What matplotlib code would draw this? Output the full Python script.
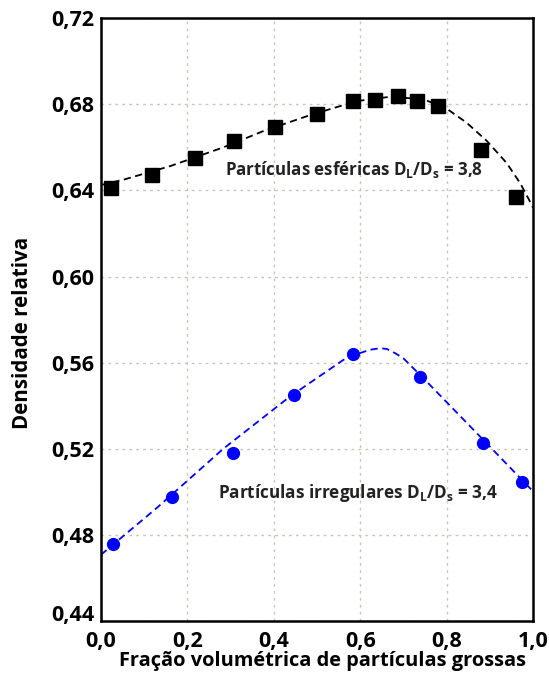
import matplotlib.pyplot as plt
from matplotlib.transforms import ScaledTranslation

plt.rcParams['font.family'] = ['Open Sans', 'DejaVu Sans']
plt.rcParams['mathtext.fontset'] = 'custom'
plt.rcParams['mathtext.bf'] = 'Open Sans:bold'
plt.rcParams['mathtext.rm'] = 'Open Sans:bold'

# esfericas (squares)
esf_x = [0.022, 0.117, 0.218, 0.308, 0.403, 0.499, 0.584, 0.633, 0.688, 0.732, 0.779, 0.880, 0.961]
esf_y = [0.641, 0.647, 0.655, 0.663, 0.6695, 0.6755, 0.6816, 0.682, 0.684, 0.6816, 0.679, 0.6587, 0.637]
esf_fit_x = [0.0, 0.052, 0.160, 0.283, 0.376, 0.484, 0.592, 0.669, 0.746, 0.800, 0.846, 0.893, 0.939, 0.970, 0.989, 1.0]
esf_fit_y = [0.6425, 0.645, 0.6513, 0.660, 0.6676, 0.675, 0.6815, 0.6835, 0.6824, 0.678, 0.6715, 0.663, 0.6527, 0.6434, 0.6363, 0.632]

# irregulares (circles)
irr_x = [0.027, 0.164, 0.306, 0.447, 0.583, 0.738, 0.883, 0.975]
irr_y = [0.4757, 0.4975, 0.5181, 0.5449, 0.564, 0.5533, 0.5229, 0.5044]
irr_fit_x = [0.0, 0.129, 0.283, 0.4375, 0.561, 0.600, 0.623, 0.645, 0.661, 0.680, 0.700, 0.746, 0.900, 1.0]
irr_fit_y = [0.4708, 0.4925, 0.520, 0.5443, 0.5613, 0.5645, 0.566, 0.5667, 0.5664, 0.5645, 0.562, 0.5528, 0.521, 0.5002]

xticks = [0.0, 0.2, 0.4, 0.6, 0.8, 1.0]
yticks = [0.44, 0.48, 0.52, 0.56, 0.60, 0.64, 0.68, 0.72]

fig = plt.figure(figsize=(5.49, 6.75), dpi=100)
ax = fig.add_axes([0.184, 0.08, 0.787, 0.893])

ax.plot(esf_fit_x, esf_fit_y, '--', color='black', lw=1.3, dashes=(4, 2.5))
ax.plot(esf_x, esf_y, 's', color='black', ms=9.5, ls='none')
ax.plot(irr_fit_x, irr_fit_y, '--', color='#0000ff', lw=1.3, dashes=(4, 2.5))
ax.plot(irr_x, irr_y, 'o', color='#0000ff', ms=8.5, ls='none')

ax.text(0.287, 0.6495, r'Partículas esféricas D$_\mathbf{L}$/D$_\mathbf{s}$ = 3,8',
        fontsize=12.2, fontweight='bold', color='#222222', va='center')
ax.text(0.271, 0.4995, r'Partículas irregulares D$_\mathbf{L}$/D$_\mathbf{s}$ = 3,4',
        fontsize=12.3, fontweight='bold', color='#222222', va='center')

ax.set_xlim(0, 1.0)
ax.set_ylim(0.44, 0.72)
ax.set_xticks(xticks)
ax.set_yticks(yticks)
ax.set_xticklabels([f'{v:.1f}'.replace('.', ',') for v in xticks])
ax.set_yticklabels([f'{v:.2f}'.replace('.', ',') for v in yticks])
ax.tick_params(length=0, labelsize=15.5, pad=5)
ax.tick_params(axis='x', pad=7)
for lab in ax.get_xticklabels() + ax.get_yticklabels():
    lab.set_fontweight('bold')
# lowest y label sits a little above the axis line, as in the original
first = ax.get_yticklabels()[0]
first.set_transform(first.get_transform() + ScaledTranslation(0, 0.08, fig.dpi_scale_trans))
ax.grid(True, ls=(0, (2, 3)), color='#c8c8b4', lw=1)
for s in ax.spines.values():
    s.set_linewidth(1.8)

ax.set_xlabel('Fração volumétrica de partículas grossas', fontsize=14.4, fontweight='bold')
ax.xaxis.set_label_coords(0.512, -0.05)
ax.set_ylabel('Densidade relativa', fontsize=14.8, fontweight='bold')
ax.yaxis.set_label_coords(-0.157, 0.478)

fig.savefig('out.png', dpi=100)
